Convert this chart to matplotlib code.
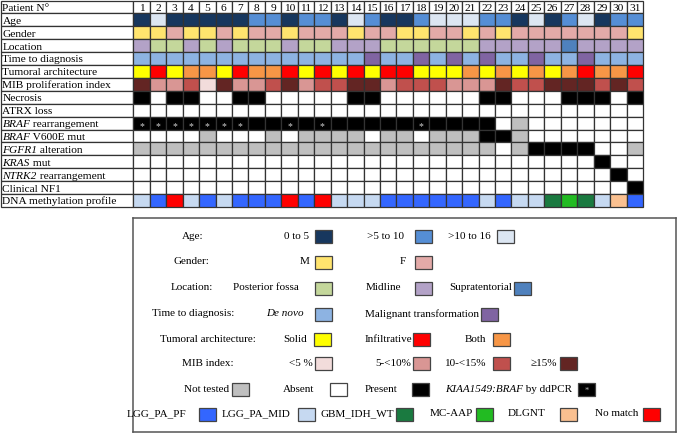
import matplotlib
matplotlib.use("Agg")
import matplotlib.pyplot as plt
from matplotlib.patches import Rectangle

plt.rcParams['font.family'] = ['Liberation Serif', 'DejaVu Serif']

#============== DATA ==============
patients = list(range(1, 32))

# Age: 0 = 0 to 5, 1 = >5 to 10, 2 = >10 to 16
age = [0, 2, 0, 0, 0, 0, 0, 1, 1, 0, 1, 1, 0, 2, 1, 0, 0, 1, 2, 2, 2, 1, 1, 0, 2, 0, 1, 2, 0, 1, 1]
# Gender: 0 = M, 1 = F
gender = [0, 0, 1, 0, 0, 1, 0, 1, 1, 0, 1, 1, 1, 0, 1, 1, 0, 0, 1, 1, 0, 1, 0, 1, 1, 1, 1, 1, 1, 1, 0]
# Location: 0 = posterior fossa, 1 = midline, 2 = supratentorial
location = [1, 0, 0, 1, 0, 1, 0, 0, 0, 1, 0, 0, 1, 1, 1, 0, 0, 0, 0, 0, 0, 1, 1, 1, 1, 1, 2, 1, 1, 1, 1]
# Time to diagnosis: 0 = de novo, 1 = malignant transformation
time_dx = [0, 0, 0, 0, 0, 0, 0, 0, 0, 0, 0, 0, 0, 0, 1, 0, 0, 1, 0, 1, 0, 1, 0, 0, 1, 0, 0, 1, 0, 0, 0]
# Tumoral architecture: 0 = solid, 1 = infiltrative, 2 = both
architecture = [0, 1, 0, 2, 2, 0, 1, 2, 2, 1, 0, 1, 0, 1, 0, 1, 1, 0, 0, 0, 2, 0, 2, 0, 2, 0, 2, 1, 2, 2, 1]
# MIB index: 0 = <5, 1 = 5-<10, 2 = 10-<15, 3 = >=15
mib = [3, 1, 1, 2, 0, 3, 1, 1, 2, 3, 1, 2, 2, 3, 3, 1, 2, 2, 2, 1, 1, 1, 3, 2, 2, 3, 3, 3, 2, 3, 2]
# status rows: N = not tested, A = absent, P = present
necrosis = "PAPPAAPPAAAAAPPAAAAAAPPAAAPPPAP"
atrx = "AAAAAAAAAAAAAAAAAAAAAAAAAAAAAAA"
braf_rearr = "PPPPPPPPPPPPPPPPPPPPPPANAAAAAAA"
braf_v600e = "AAAANAAANANNNNANNANNNPPNAAAAAAA"
fgfr1 = "NNNNNNNNNNNNNNNNNNNNNNANPPPPAAN"
kras = "AAAAAAAAAAAAAAAAAAAAAAAAAAAAPAA"
ntrk2 = "AAAAAAAAAAAAAAAAAAAAAAAAAAAAAPA"
nf1 = "AAAAAAAAAAAAAAAAAAAAAAAAAAAAAAP"
ddpcr = [1, 2, 3, 4, 5, 6, 7, 10, 12, 18]
# DNA methylation: 0 PF, 1 MID, 2 GBM, 3 MC-AAP, 4 DLGNT, 5 no match
methylation = [1, 0, 5, 1, 0, 1, 0, 0, 0, 5, 0, 5, 1, 1, 1, 0, 0, 0, 0, 0, 0, 1, 0, 1, 1, 2, 3, 2, 1, 4, 0]

age_labels = ["0 to 5", ">5 to 10", ">10 to 16"]
age_colors = ["#17375e", "#558ed5", "#dce6f2"]
gender_labels = ["M", "F"]
gender_colors = ["#ffe46e", "#e3aaa8"]
loc_labels = ["Posterior fossa", "Midline", "Supratentorial"]
loc_colors = ["#c4d79b", "#b3a2c7", "#4f81bd"]
# (italic part, normal part)
time_labels = [("De novo", ""), ("", "Malignant transformation")]
time_colors = ["#8db3e2", "#8064a2"]
arch_labels = ["Solid", "Infiltrative", "Both"]
arch_colors = ["#ffff00", "#ff0000", "#f79646"]
mib_labels = ["<5 %", "5-<10%", "10-<15%", "\u226515%"]
mib_colors = ["#f2dcdb", "#d99694", "#c0504d", "#632523"]
status_labels = ["Not tested", "Absent", "Present", ("KIAA1549:BRAF", " by ddPCR")]
status_colors = {"N": "#bfbfbf", "A": "#ffffff", "P": "#000000"}
methyl_labels = ["LGG_PA_PF", "LGG_PA_MID", "GBM_IDH_WT", "MC-AAP", "DLGNT", "No match"]
methyl_colors = ["#3366ff", "#c6d9f1", "#1a7a40", "#22bb22", "#fac090", "#ff0000"]

rows = [
    (("", "Age"), [age_colors[v] for v in age]),
    (("", "Gender"), [gender_colors[v] for v in gender]),
    (("", "Location"), [loc_colors[v] for v in location]),
    (("", "Time to diagnosis"), [time_colors[v] for v in time_dx]),
    (("", "Tumoral architecture"), [arch_colors[v] for v in architecture]),
    (("", "MIB proliferation index"), [mib_colors[v] for v in mib]),
    (("", "Necrosis"), [status_colors[s] for s in necrosis]),
    (("", "ATRX loss"), [status_colors[s] for s in atrx]),
    (("BRAF", " rearrangement"), [status_colors[s] for s in braf_rearr]),
    (("BRAF", " V600E mut"), [status_colors[s] for s in braf_v600e]),
    (("FGFR1", " alteration"), [status_colors[s] for s in fgfr1]),
    (("KRAS", " mut"), [status_colors[s] for s in kras]),
    (("NTRK2", " rearrangement"), [status_colors[s] for s in ntrk2]),
    (("", "Clinical NF1"), [status_colors[s] for s in nf1]),
    (("", "DNA methylation profile"), [methyl_colors[v] for v in methylation]),
]

FS = 8.2


def mixed_left(ax, x, y, parts, fs):
    # italic part first, then normal part chained to its right edge
    ital, norm = parts
    if ital:
        t = ax.text(x, y, ital, fontsize=fs, style="italic", ha="left", va="baseline")
        if norm:
            ax.annotate(norm, xy=(1, 0), xycoords=t, fontsize=fs, ha="left", va="bottom")
    else:
        ax.text(x, y, norm, fontsize=fs, ha="left", va="baseline")


def mixed_right(ax, x, y, parts, fs):
    if isinstance(parts, str):
        ax.text(x, y, parts, fontsize=fs, ha="right", va="center")
        return
    ital, norm = parts
    if norm:
        t = ax.text(x, y, norm, fontsize=fs, ha="right", va="center")
        if ital:
            ax.annotate(ital, xy=(0, 0), xycoords=t, fontsize=fs, style="italic",
                        ha="right", va="bottom")
    else:
        ax.text(x, y, ital, fontsize=fs, style="italic", ha="right", va="center")


#============== TABLE ==============
W, H = 677, 433
fig = plt.figure(figsize=(W / 100, H / 100), dpi=100)

n = len(patients)
n_rows = len(rows) + 1
label_px, grid_right, grid_bottom = 133, 643, 207
col_w = (grid_right - label_px) / n
lab_w = label_px / col_w
edge = "#333333"

ax = fig.add_axes([0.5 / W, 1 - grid_bottom / H, (grid_right - 0.5) / W, (grid_bottom - 0.5) / H])
ax.set_xlim(-lab_w, n)
ax.set_ylim(n_rows, 0)
ax.axis("off")

base = 0.8  # baseline position inside a row

# header
ax.add_patch(Rectangle((-lab_w, 0), lab_w, 1, fc="white", ec=edge, lw=0.9, clip_on=False))
ax.text(-lab_w + 0.12, base, "Patient N\u00b0", fontsize=FS, va="baseline", ha="left")
for j, p in enumerate(patients):
    ax.add_patch(Rectangle((j, 0), 1, 1, fc="white", ec=edge, lw=0.9, clip_on=False))
    ax.text(j + 0.5, base, str(p), fontsize=FS, va="baseline", ha="center")

for i, (label, colors) in enumerate(rows):
    r = i + 1
    ax.add_patch(Rectangle((-lab_w, r), lab_w, 1, fc="white", ec=edge, lw=0.9, clip_on=False))
    mixed_left(ax, -lab_w + 0.12, r + base, label, FS)
    for j, c in enumerate(colors):
        ax.add_patch(Rectangle((j, r), 1, 1, fc=c, ec=edge, lw=0.9, clip_on=False))

# ddPCR asterisks on the BRAF rearrangement row
braf_row = 9
for p in ddpcr:
    ax.text(p - 0.5, braf_row + 0.75, "*", fontsize=7, color="#cfcfcf", ha="center", va="center")

#============== LEGEND ==============
lg = fig.add_axes([133 / W, 1 - 432 / H, (676 - 133) / W, (432 - 218) / H])
lg.set_xlim(133, 676)
lg.set_ylim(432, 218)
lg.set_xticks([])
lg.set_yticks([])
for s in lg.spines.values():
    s.set_color("#555555")
    s.set_linewidth(1.1)

row_y = [236, 262, 288, 314, 339, 363, 389, 414]
titles = ["Age:", "Gender:", "Location:", "Time to diagnosis:", "Tumoral architecture:", "MIB index:"]
title_x = [193, 191, 192, 193, 208, 208]
for t, tx, ty in zip(titles, title_x, row_y):
    lg.text(tx, ty, t, fontsize=8, ha="center", va="center")

groups = [
    (age_labels, age_colors, [309, 404, 491], [315, 415, 497]),
    (gender_labels, gender_colors, [310, 406], [315, 415]),
    (loc_labels, loc_colors, [299, 401, 512], [315, 415, 514]),
    (time_labels, time_colors, [304, 479], [315, 481]),
    (arch_labels, arch_colors, [307, 412, 486], [314, 413, 493]),
    (mib_labels, mib_colors, [313, 411, 486, 557], [315, 413, 493, 560]),
    (status_labels, [status_colors["N"], status_colors["A"], status_colors["P"], status_colors["P"]],
     [229, 314, 397, 572], [232, 330, 412, 578]),
    (methyl_labels, methyl_colors, [186, 291, 394, 473, 545, 638], [199, 298, 396, 476, 560, 643]),
]
sw_w, sw_h = 17, 13
for (labels, colors, text_right, sw_left), y in zip(groups, row_y):
    for lab, c, tr, sx in zip(labels, colors, text_right, sw_left):
        mixed_right(lg, tr, y, lab, 8)
        lg.add_patch(Rectangle((sx, y - sw_h / 2), sw_w, sw_h, fc=c, ec="#444444", lw=0.9))

# asterisk inside the ddPCR swatch
lg.text(578 + sw_w / 2, row_y[6] + 1.5, "*", fontsize=6, color="#bbbbbb", ha="center", va="center")

fig.savefig("out.png", dpi=100)
